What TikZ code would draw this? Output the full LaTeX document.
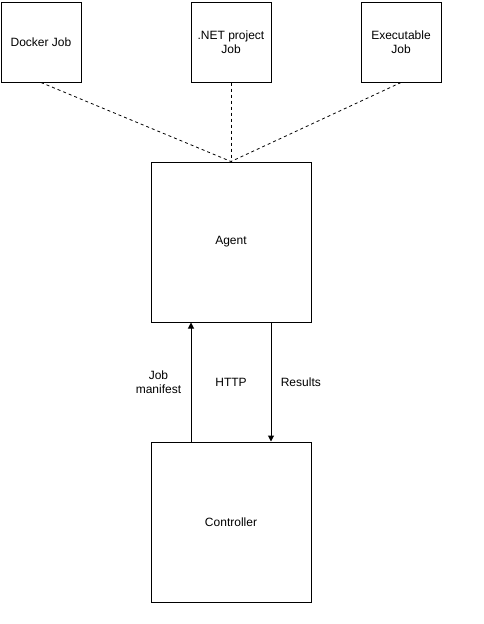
\documentclass[tikz,border=0pt]{standalone}
\usepackage{fontspec}
\setmainfont{Liberation Sans}
\usetikzlibrary{arrows.meta}
\tikzset{
    box/.style={draw, line width=1pt, minimum width=80pt, minimum height=80pt, align=center, inner sep=2pt, font=\fontsize{12pt}{14pt}\selectfont},
    bigbox/.style={box, minimum width=160pt, minimum height=160pt},
    link/.style={line width=0.8pt, dash pattern=on 3pt off 3pt},
    flow/.style={line width=1pt, -{Triangle[width=6pt,length=6pt]}},
    lbl/.style={align=center, font=\fontsize{12pt}{14pt}\selectfont}
}
\begin{document}
\begin{tikzpicture}[x=1pt, y=-1pt]
        \useasboundingbox (0,0) rectangle (484,624);
        \node[box] (docker) at (41,42) {Docker Job};
        \node[box] (dotnet) at (231,42) {.NET project\\Job};
        \node[box] (exe) at (401,42) {Executable\\Job};
        \node[bigbox] (agent) at (231,242) {Agent};
        \node[bigbox] (controller) at (231,522) {Controller};
        \foreach \j in {docker, dotnet, exe}
        {
            \draw[link] (\j.south) -- (agent.north);
        }
        \draw[flow] (controller.north -| 191,0) -- node[lbl, left=6pt]{Job\\manifest} (agent.south -| 191,0);
        \draw[flow] (agent.south -| 271,0) -- node[lbl, right=6pt]{Results} (controller.north -| 271,0);
        \node[lbl] (http) at (231,382) {HTTP};
    \end{tikzpicture}
\end{document}
